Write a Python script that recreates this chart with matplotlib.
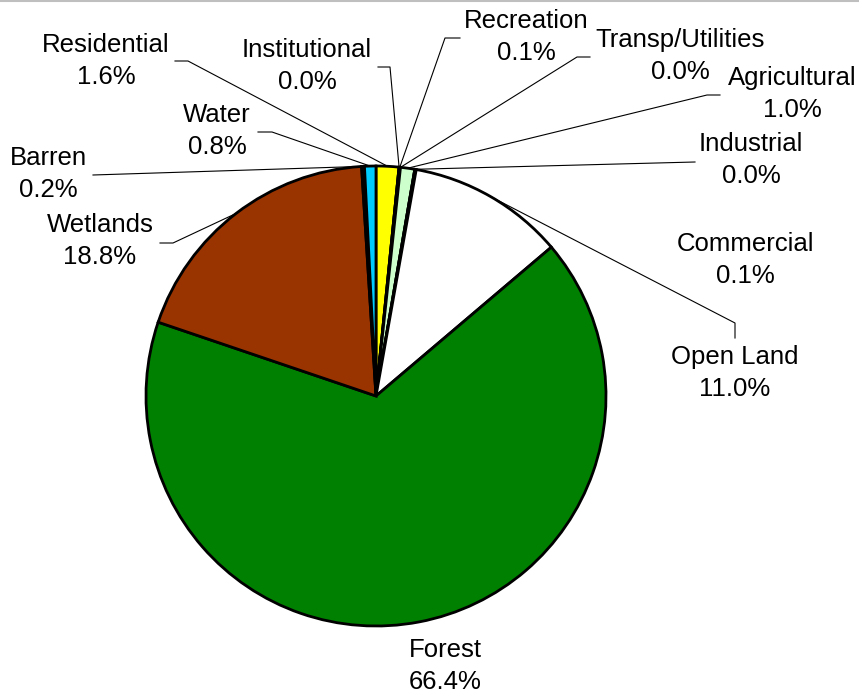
import numpy as np
import matplotlib
matplotlib.use('Agg')
import matplotlib.pyplot as plt

names = ['Residential', 'Institutional', 'Recreation', 'Transp/Utilities', 'Agricultural',
         'Industrial', 'Commercial', 'Open Land', 'Forest', 'Wetlands', 'Barren', 'Water']
pct = [1.6, 0.0, 0.1, 0.0, 1.0, 0.0, 0.1, 11.0, 66.4, 18.8, 0.2, 0.8]
colors = ['#FFFF00', '#FF9900', '#99CC00', '#808080', '#CCFFCC', '#9999FF',
          '#FF0000', '#FFFFFF', '#008000', '#993300', '#C0C0C0', '#00CCFF']

W, H = 859, 693
# label centre (pixel coords) and leader elbow points (pixel coords)
label_pos = {
    'Residential': (106, 61), 'Institutional': (307, 66), 'Recreation': (526, 37),
    'Transp/Utilities': (680, 56), 'Agricultural': (792, 94), 'Industrial': (751, 160),
    'Commercial': (745, 260), 'Open Land': (735, 373), 'Forest': (445, 666),
    'Wetlands': (100, 241), 'Barren': (48, 174), 'Water': (217, 131)}
leader = {
    'Residential': [(175, 61), (188, 61)], 'Institutional': [(378, 67), (390, 67)],
    'Recreation': [(460, 38), (445, 38)], 'Transp/Utilities': [(590, 57), (577, 57)],
    'Agricultural': [(720, 95), (707, 95)], 'Industrial': [(695, 162)],
    'Open Land': [(735, 338), (735, 323)], 'Wetlands': [(160, 243), (173, 243)],
    'Barren': [(93, 175)], 'Water': [(258, 132), (272, 132)]}

plt.rcParams['font.family'] = ['Liberation Sans', 'DejaVu Sans']

fig = plt.figure(figsize=(W / 100, H / 100), dpi=100)
ax = fig.add_axes([0, 0, 1, 1])

cx, cy, r = 376, H - 396, 230
wedges, _ = ax.pie(pct, colors=colors, startangle=90, counterclock=False,
                   center=(cx, cy), radius=r, frame=True,
                   wedgeprops=dict(edgecolor='black', linewidth=2))
ax.set_xlim(0, W)
ax.set_ylim(0, H)
ax.set_aspect('equal')
ax.axis('off')

for w, name, p in zip(wedges, names, pct):
    tx, ty = label_pos[name]
    ax.text(tx, H - ty, f'{name}\n{p:.1f}%', ha='center', va='center',
            multialignment='center', fontsize=18.5, linespacing=1.42)
    if name in leader:
        mid = np.deg2rad((w.theta1 + w.theta2) / 2)
        px, py = cx + r * np.cos(mid), cy + r * np.sin(mid)
        xs = [q[0] for q in leader[name]] + [px]
        ys = [H - q[1] for q in leader[name]] + [py]
        ax.plot(xs, ys, color='black', linewidth=0.8)

fig.add_artist(plt.Line2D([0, 1], [0.999, 0.999], transform=fig.transFigure,
                          color='#BFBFBF', linewidth=1.5))

fig.savefig('out.png', dpi=100)
